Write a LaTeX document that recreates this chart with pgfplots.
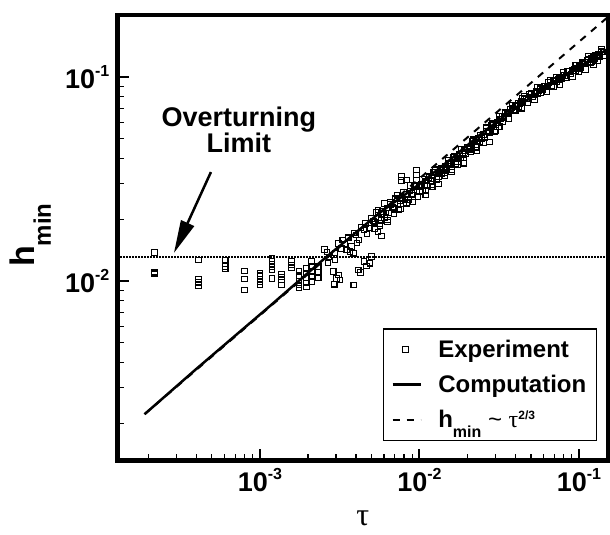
\documentclass[border=0pt]{standalone}
\usepackage{fontspec}
\setmainfont{Liberation Sans}
\newfontfamily\serifgreek{Liberation Serif}
\usepackage{pgfplots}
\pgfplotsset{compat=1.18}
\usetikzlibrary{arrows.meta}
\newcommand{\tlab}[1]{10\raisebox{12bp}{\fontsize{16bp}{16bp}\selectfont -#1}}
\pgfplotsset{
  mylineleg/.style={legend image code/.code={\draw[##1] (0bp,0bp) -- (28bp,0bp);}},
  mymarkleg/.style={legend image code/.code={\draw[##1] plot coordinates {(13bp,0bp)};}},
}
\begin{document}
\begin{tikzpicture}
\useasboundingbox (-117.5bp,-74.5bp) rectangle (492.5bp,460.5bp);
\begin{axis}[
  xmode=log, ymode=log,
  scale only axis, width=490.5bp, height=445.5bp,
  xmin=1.28e-4, xmax=0.152, ymin=1.318e-3, ymax=0.2014,
  axis line style={line width=4.5bp},
  tick pos=left, tick align=inside,
  major tick length=12bp, minor tick length=6.5bp,
  major tick style={line width=2bp, black},
  minor tick style={line width=1.2bp, black},
  xtick={1e-3,1e-2,1e-1},
  xticklabels={\tlab{3},\tlab{2},\tlab{1}},
  ytick={1e-2,1e-1},
  yticklabels={\tlab{2},\tlab{1}},
  minor xtick={2e-4,3e-4,4e-4,5e-4,6e-4,7e-4,8e-4,9e-4,2e-3,3e-3,4e-3,5e-3,6e-3,7e-3,8e-3,9e-3,2e-2,3e-2,4e-2,5e-2,6e-2,7e-2,8e-2,9e-2},
  minor ytick={2e-3,3e-3,4e-3,5e-3,6e-3,7e-3,8e-3,9e-3,2e-2,3e-2,4e-2,5e-2,6e-2,7e-2,8e-2,9e-2},
  ticklabel style={font=\bfseries\fontsize{27bp}{30bp}\selectfont},
  xticklabel style={inner sep=0pt, yshift=-8bp},
  yticklabel style={inner sep=0pt, xshift=-8bp},
  xlabel={{\serifgreek τ}},
  xlabel style={at={(rel axis cs:0.5,0)}, anchor=base, yshift=-64.5bp, font=\fontsize{32bp}{34bp}\selectfont},
  ylabel={h\raisebox{-16bp}{\fontsize{24bp}{24bp}\selectfont min}},
  every axis y label/.style={at={(rel axis cs:-0.1682,0.506)}, rotate=90, anchor=base, font=\bfseries\fontsize{34bp}{36bp}\selectfont},
  legend cell align=left,
  legend style={at={(rel axis cs:0.9776,0.0433)}, anchor=south east, draw=black, line width=1.5bp, fill=white,
    font=\bfseries\fontsize{24bp}{26bp}\selectfont, inner xsep=8bp, inner ysep=4bp, row sep=1.3bp, column sep=14.3bp,
    nodes={inner sep=2bp, text height=22.4bp, text depth=7.3bp}},
]
\addplot[only marks, mark=square, mark size=2.8bp, mark options={line width=1.1bp, black, solid}, mymarkleg] coordinates {
(2.19e-4,0.01376)(2.19e-4,0.01104)(2.19e-4,0.01085)
(4.13e-4,0.01267)(4.13e-4,0.0102)(4.13e-4,0.00986)(4.13e-4,0.00953)
(6.06e-4,0.01267)(6.06e-4,0.01175)(6.06e-4,0.01146)
(8.02e-4,0.0112)(8.02e-4,0.01023)(8.02e-4,0.00903)
(1.0e-3,0.01091)(1.0e-3,0.0106)(1.0e-3,0.01023)(1.0e-3,0.00989)(1.0e-3,0.00955)
(1.19e-3,0.01291)(1.19e-3,0.01253)(1.19e-3,0.01211)(1.19e-3,0.01172)(1.19e-3,0.01132)(1.19e-3,0.0103)
(1.37e-3,0.01081)(1.37e-3,0.01047)(1.37e-3,0.01012)(1.37e-3,0.00955)
(1.58e-3,0.01244)(1.58e-3,0.01197)(1.58e-3,0.01159)
(1.76e-3,0.01111)(1.76e-3,0.0106)(1.76e-3,0.0100)(1.76e-3,0.00955)(1.76e-3,0.00925)
(1.96e-3,0.01154)(1.96e-3,0.01095)(1.96e-3,0.01034)(1.96e-3,0.00978)(1.96e-3,0.00935)
(2.11e-3,0.01245)(2.11e-3,0.01175)(2.11e-3,0.01111)(2.11e-3,0.0105)(2.11e-3,0.00993)
(2.32e-3,0.01175)(2.32e-3,0.0110)(2.32e-3,0.01038)
(2.54e-3,0.01429)(2.63e-3,0.01387)(2.71e-3,0.01312)(2.67e-3,0.01225)
(2.88e-3,0.01111)(3.10e-3,0.0107)(3.18e-3,0.0101)(2.92e-3,0.00964)(3.02e-3,0.0103)
(3.10e-3,0.01531)(2.95e-3,0.01371)(2.95e-3,0.01268)
(3.25e-3,0.01445)(3.50e-3,0.01419)(3.76e-3,0.01473)(3.67e-3,0.01392)(3.85e-3,0.01368)
(3.88e-3,0.00955)(4.13e-3,0.01132)(4.28e-3,0.01099)(4.49e-3,0.01245)(4.67e-3,0.01186)(4.90e-3,0.01222)(5.01e-3,0.01315)
(4.0e-3,0.0168)(4.18e-3,0.0159)(4.06e-3,0.01535)
(4.49e-3,0.01778)(4.69e-3,0.01698)(4.90e-3,0.0182)
(5.26e-3,0.01945)(5.50e-3,0.01738)(5.79e-3,0.01663)(5.65e-3,0.01862)
(3.31e-3,0.01589)(3.56e-3,0.01626)(3.41e-3,0.01517)
(4.3e-3,0.0183)(4.6e-3,0.0192)(3.9e-3,0.0172)(3.6e-3,0.0163)
(7.73e-3,0.03246)(7.73e-3,0.03101)(8.31e-3,0.03127)(9.60e-3,0.03500)(9.60e-3,0.03307)(9.60e-3,0.03127)
(4.06e-2,0.0729)(4.41e-2,0.0787)(0.1355,0.1257)(0.123,0.1146)
(5.012e-3,0.02025)(5.248e-3,0.01942)(5.495e-3,0.02167)(5.754e-3,0.02134)(6.026e-3,0.02043)(6.310e-3,0.02277)(6.607e-3,0.02368)(6.918e-3,0.02268)(7.244e-3,0.02526)(7.586e-3,0.02487)(7.943e-3,0.02381)(8.318e-3,0.02652)(8.710e-3,0.02759)(9.120e-3,0.02640)(9.550e-3,0.02944)(1.0e-2,0.02904)(1.047e-2,0.02777)(1.096e-2,0.03090)(1.148e-2,0.03210)(1.202e-2,0.03069)(1.259e-2,0.03416)(1.318e-2,0.03412)(1.380e-2,0.03353)(1.445e-2,0.03647)(1.514e-2,0.03788)(1.585e-2,0.03724)(1.660e-2,0.04058)(1.738e-2,0.04067)(1.820e-2,0.04005)(1.905e-2,0.04362)(1.995e-2,0.04538)(2.089e-2,0.04467)(2.188e-2,0.04867)(2.291e-2,0.04879)(2.399e-2,0.04804)(2.512e-2,0.05233)(2.630e-2,0.05437)(2.754e-2,0.05346)(2.884e-2,0.05816)(3.020e-2,0.05825)(3.162e-2,0.05728)(3.311e-2,0.06405)(3.467e-2,0.06622)(3.631e-2,0.06660)(3.802e-2,0.07047)(3.981e-2,0.07154)(4.169e-2,0.07175)(4.365e-2,0.07570)(4.571e-2,0.07805)(4.786e-2,0.07828)(5.012e-2,0.08260)(5.248e-2,0.08334)(5.495e-2,0.08330)(5.754e-2,0.08759)(6.026e-2,0.08999)(6.310e-2,0.08995)(6.607e-2,0.09443)(6.918e-2,0.09511)(7.244e-2,0.09490)(7.586e-2,0.09963)(7.943e-2,0.1022)(8.318e-2,0.1020)(8.710e-2,0.1071)(9.120e-2,0.1079)(9.550e-2,0.1076)(0.1,0.1130)(0.1047,0.1161)(0.1096,0.1160)(0.1148,0.1220)(0.1202,0.1231)(0.1259,0.1230)(0.1318,0.1293)(0.1380,0.1329)(0.1445,0.1328)
(5.129e-3,0.01969)(5.370e-3,0.02168)(5.623e-3,0.01912)(5.888e-3,0.02191)(6.166e-3,0.02157)(6.457e-3,0.02152)(6.761e-3,0.02301)(7.079e-3,0.02529)(7.413e-3,0.02228)(7.762e-3,0.02553)(8.128e-3,0.02513)(8.511e-3,0.02508)(8.913e-3,0.02681)(9.333e-3,0.02946)(9.772e-3,0.02597)(1.023e-2,0.02980)(1.072e-2,0.02929)(1.122e-2,0.02919)(1.175e-2,0.03116)(1.230e-2,0.03421)(1.288e-2,0.03153)(1.349e-2,0.03493)(1.413e-2,0.03498)(1.479e-2,0.03533)(1.549e-2,0.03738)(1.622e-2,0.04033)(1.698e-2,0.03755)(1.778e-2,0.04168)(1.862e-2,0.04179)(1.950e-2,0.04229)(2.042e-2,0.04481)(2.138e-2,0.04837)(2.239e-2,0.04505)(2.344e-2,0.04999)(2.455e-2,0.05012)(2.570e-2,0.05069)(2.692e-2,0.05367)(2.818e-2,0.05785)(2.951e-2,0.05383)(3.090e-2,0.05966)(3.236e-2,0.06226)(3.388e-2,0.06349)(3.548e-2,0.06625)(3.715e-2,0.06978)(3.890e-2,0.06826)(4.074e-2,0.07279)(4.266e-2,0.07369)(4.467e-2,0.07493)(4.677e-2,0.07797)(4.898e-2,0.08191)(5.129e-2,0.07979)(5.370e-2,0.08467)(5.623e-2,0.08541)(5.888e-2,0.08656)(6.166e-2,0.08977)(6.457e-2,0.09386)(6.761e-2,0.09112)(7.079e-2,0.09654)(7.413e-2,0.09723)(7.762e-2,0.09838)(8.128e-2,0.1019)(8.511e-2,0.1064)(8.913e-2,0.1033)(9.333e-2,0.1095)(9.772e-2,0.1103)(0.1023,0.1117)(0.1072,0.1158)(0.1122,0.1212)(0.1175,0.1178)(0.1230,0.1251)(0.1288,0.1262)(0.1349,0.1279)(0.1413,0.1326)
(5.248e-3,0.01796)(5.754e-3,0.02005)(6.310e-3,0.01947)(6.918e-3,0.02145)(7.586e-3,0.02392)(8.318e-3,0.02403)(9.120e-3,0.02442)(1.0e-2,0.02729)(1.096e-2,0.02642)(1.202e-2,0.02904)(1.318e-2,0.03236)(1.445e-2,0.03273)(1.585e-2,0.03508)(1.738e-2,0.03858)(1.905e-2,0.04006)(2.089e-2,0.04406)(2.291e-2,0.04574)
(5.495e-3,0.02227)(6.026e-3,0.02400)(6.607e-3,0.02435)(7.244e-3,0.02633)(7.943e-3,0.02732)(8.710e-3,0.02943)(9.550e-3,0.02916)(1.047e-2,0.03158)(1.148e-2,0.03269)(1.259e-2,0.03510)(1.380e-2,0.03576)(1.514e-2,0.03893)(1.660e-2,0.04075)(1.820e-2,0.04431)(1.995e-2,0.04537)(2.188e-2,0.04955)(2.399e-2,0.05193)(2.630e-2,0.05639)(2.884e-2,0.05898)(3.162e-2,0.06428)(3.467e-2,0.06714)(3.802e-2,0.07278)(4.169e-2,0.07409)(4.571e-2,0.08024)(5.012e-2,0.08337)(5.495e-2,0.08925)(6.026e-2,0.08999)(6.607e-2,0.09663)(7.244e-2,0.09938)(7.943e-2,0.1060)(8.710e-2,0.1066)(9.550e-2,0.1142)(0.1047,0.1177)(0.1148,0.1260)(0.1259,0.1271)(0.1380,0.1366)
(5.754e-3,0.01982)(6.310e-3,0.01992)(6.918e-3,0.02246)(7.586e-3,0.02257)(8.318e-3,0.02431)(9.120e-3,0.02442)(1.0e-2,0.02760)(1.096e-2,0.02767)(1.202e-2,0.02972)(1.318e-2,0.02985)(1.445e-2,0.03388)(1.585e-2,0.03427)(1.738e-2,0.03727)(1.905e-2,0.03782)(2.089e-2,0.04305)(2.291e-2,0.04368)(2.512e-2,0.04750)(2.754e-2,0.04808)(3.020e-2,0.05461)(3.311e-2,0.06033)(3.631e-2,0.06244)(3.981e-2,0.06878)(4.365e-2,0.07033)(4.786e-2,0.07510)(5.248e-2,0.07705)(5.754e-2,0.08383)(6.310e-2,0.08511)(6.918e-2,0.08999)(7.586e-2,0.09172)(8.318e-2,0.09945)(9.120e-2,0.1007)(0.1,0.1064)(0.1096,0.1088)(0.1202,0.1183)(0.1318,0.1202)(0.1445,0.1274)
};
\addlegendentry{Experiment}
\addplot[black, line width=2.5bp, mylineleg] coordinates {
(1.892e-4,2.223e-3)(3.981e-4,3.698e-3)(7.709e-4,5.754e-3)(1.156e-3,7.542e-3)(2.512e-3,1.279e-2)(5.649e-3,2.163e-2)(1.0e-2,2.985e-2)(1.585e-2,3.981e-2)(2.512e-2,5.370e-2)(3.981e-2,7.047e-2)(6.310e-2,8.954e-2)(0.1,0.1119)(0.1542,0.1384)
};
\addlegendentry{Computation}
\addplot[black, line width=2bp, dash pattern=on 7bp off 7bp, mylineleg] coordinates {
(1.892e-4,2.223e-3)(0.1542,0.199)
};
\addlegendentry{h\raisebox{-10bp}{\fontsize{16bp}{16bp}\selectfont min} {\mdseries\textasciitilde} {\mdseries\serifgreek τ}\raisebox{7.4bp}{\fontsize{12bp}{12bp}\selectfont 2/3}}
\addplot[forget plot, black, line width=1.8bp, dash pattern=on 1.5bp off 1.5bp] coordinates {(1.28e-4,0.0131)(0.152,0.0131)};
\draw[line width=2.5bp, -{Triangle[length=33bp,width=14bp]}] (axis cs:4.93e-4,0.0342) -- (axis cs:2.89e-4,0.01371);
\node[anchor=base, font=\bfseries\fontsize{27bp}{28bp}\selectfont] at (axis cs:7.38e-4,0.0569) {Overturning};
\node[anchor=base, font=\bfseries\fontsize{27bp}{28bp}\selectfont] at (axis cs:7.38e-4,0.04289) {Limit};
\end{axis}
\end{tikzpicture}
\end{document}
